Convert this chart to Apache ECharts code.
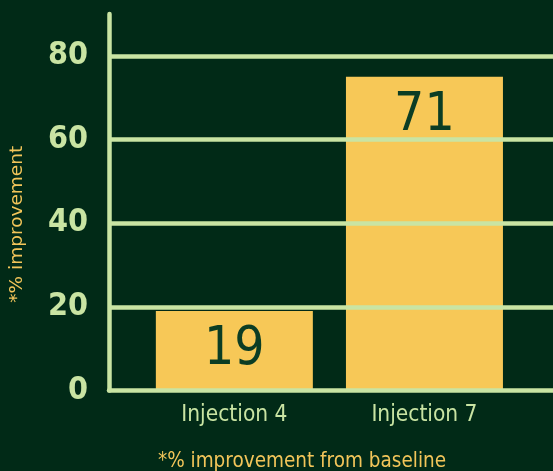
<!DOCTYPE html>
<html><head><meta charset="utf-8">
<script src="https://cdn.jsdelivr.net/npm/echarts@6/dist/echarts.min.js"></script>
<style>html,body{margin:0;padding:0;background:#012a17;}#c{width:553px;height:471px;}</style>
</head><body><div id="c"></div>
<script>
const categories = ['Injection 4', 'Injection 7'];
const barValues = [19, 75];
const barLabels = ['19', '71'];
const yTicks = [0, 20, 40, 60, 80];
const yAxisTitle = '*% improvement';
const footnote = '*% improvement from baseline';

const GREEN = '#c9e4a3';
const YELLOW = '#f2c55a';
const COND = '"DejaVu Sans Condensed", "Liberation Sans Narrow", "DejaVu Sans", sans-serif';
const NARROW = '"Liberation Sans Narrow", "DejaVu Sans Condensed", sans-serif';
const yMin = yTicks[0], yStep = yTicks[1] - yTicks[0], yMax = 90;

const chart = echarts.init(document.getElementById('c'), null, {renderer: 'canvas'});
chart.setOption({
  backgroundColor: '#012a17',
  animation: false,
  grid: [
    {left: 107, right: 0, top: 14, bottom: 80.5},
    {left: 139.3, right: 33.5, top: 14, bottom: 80.5}
  ],
  xAxis: [
    {gridIndex: 0, type: 'value', min: 0, max: 1, z: 5,
     axisLine: {show: true, lineStyle: {color: GREEN, width: 4.5, cap: 'round'}},
     axisTick: {show: false}, axisLabel: {show: false}, splitLine: {show: false}},
    {gridIndex: 1, type: 'category', data: categories,
     axisLine: {show: false}, axisTick: {show: false},
     axisLabel: {color: GREEN, fontFamily: COND, fontSize: 22.5, margin: 13}}
  ],
  yAxis: [
    {gridIndex: 0, type: 'value', min: yMin, max: yMax, interval: yStep, z: 5,
     axisLine: {show: true, lineStyle: {color: GREEN, width: 4.5, cap: 'round'}},
     axisTick: {show: false},
     axisLabel: {showMaxLabel: false, color: GREEN, fontFamily: COND, fontWeight: 'bold', fontSize: 32, margin: 21},
     splitLine: {show: true, showMaxLine: false, showMinLine: false, lineStyle: {color: GREEN, width: 4.5}},
     name: yAxisTitle, nameLocation: 'middle', nameGap: 82, nameRotate: 90,
     nameTextStyle: {color: YELLOW, fontSize: 18.5, fontFamily: '"DejaVu Sans", sans-serif', padding: [0, 44, 0, 0]}},
    {gridIndex: 1, type: 'value', min: yMin, max: yMax, interval: yStep, show: false}
  ],
  series: [{
    type: 'bar', xAxisIndex: 1, yAxisIndex: 1,
    data: barValues,
    barWidth: 157,
    itemStyle: {color: '#f7c857'},
    label: {show: true, position: 'insideTop', distance: 13,
      formatter: p => barLabels[p.dataIndex],
      color: '#0b3d24', fontSize: 53, fontFamily: NARROW}
  }],
  graphic: [{
    type: 'text', x: 302, y: 462,
    style: {text: footnote, fill: YELLOW, font: '20.5px ' + COND, textAlign: 'center', textVerticalAlign: 'middle'}
  }]
});
</script></body></html>
